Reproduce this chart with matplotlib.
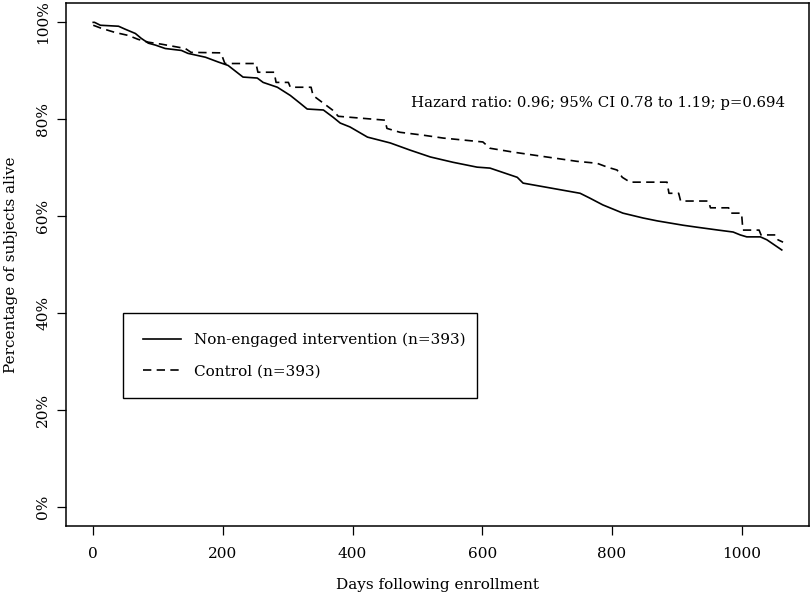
import numpy as np
import matplotlib
matplotlib.use("Agg")
from matplotlib import pyplot as plt
from matplotlib.ticker import FuncFormatter

# Kaplan-Meier curve vertices (days, % alive)
INTERVENTION_DAYS = [0, 2, 11, 39, 49, 65, 74, 85, 96, 111, 136, 146, 173, 193, 208, 231,
                     253, 262, 284, 304, 319, 330, 355, 370, 381, 396, 423, 458, 489,
                     520, 555, 592, 612, 654, 663, 705, 751, 766, 786, 817, 848, 870,
                     910, 931, 964, 987, 998, 1008, 1029, 1039, 1062]
INTERVENTION_PCT = [100, 100, 99.4, 99.2, 98.6, 97.7, 96.7, 95.7, 95.3, 94.6, 94.2, 93.6,
                    92.8, 91.8, 91.1, 88.7, 88.5, 87.6, 86.6, 84.9, 83.3, 82.1, 81.9, 80.4,
                    79.2, 78.4, 76.3, 75.1, 73.6, 72.2, 71.1, 70.1, 69.9, 68.0, 66.8, 65.8,
                    64.7, 63.7, 62.3, 60.6, 59.6, 59.0, 58.1, 57.7, 57.1, 56.7, 56.1, 55.7,
                    55.7, 55.1, 53.0]

CONTROL_DAYS = [0, 12, 34, 54, 69, 85, 105, 142, 151, 197, 203, 251, 254, 279, 282, 301,
                304, 336, 339, 355, 369, 378, 396, 450, 453, 473, 509, 540, 601, 612,
                648, 689, 746, 777, 793, 808, 816, 828, 885, 888, 903, 906, 949, 952,
                980, 983, 1000, 1002, 1027, 1030, 1053, 1056, 1064]
CONTROL_PCT = [99.4, 98.8, 97.9, 97.3, 96.5, 95.9, 95.5, 94.6, 93.8, 93.7, 91.5, 91.5,
               89.7, 89.7, 87.6, 87.6, 86.6, 86.6, 84.9, 83.3, 81.9, 80.6, 80.4, 79.8,
               78.1, 77.3, 76.7, 76.1, 75.3, 74.0, 73.2, 72.4, 71.3, 70.9, 70.1, 69.5,
               68.0, 67.0, 67.0, 64.7, 64.7, 63.1, 63.1, 61.7, 61.7, 60.6, 60.6, 57.1,
               57.1, 56.1, 56.1, 55.1, 54.6]

LABEL_INTERVENTION = "Non-engaged intervention (n=393)"
LABEL_CONTROL = "Control (n=393)"
HR_TEXT = "Hazard ratio: 0.96; 95% CI 0.78 to 1.19; p=0.694"

X_TICKS = [0, 200, 400, 600, 800, 1000]
Y_TICKS = [0, 20, 40, 60, 80, 100]

FONT_SIZE = 11

plt.rcParams['font.family'] = ['DejaVu Serif']
plt.rcParams['font.size'] = FONT_SIZE


def main():
    fig = plt.figure(figsize=(8.12, 5.97), dpi=100)
    ax = fig.add_axes([0.0813, 0.119, 0.915, 0.876])

    ax.plot(INTERVENTION_DAYS, INTERVENTION_PCT, color='black',
            lw=1.2, label=LABEL_INTERVENTION)
    ax.plot(CONTROL_DAYS, CONTROL_PCT, color='black',
            lw=1.2, dashes=(5, 3.2), label=LABEL_CONTROL)

    ax.set_xlim(-42, 1104)
    ax.set_ylim(-4, 104)
    ax.set_xticks(X_TICKS)
    ax.set_yticks(Y_TICKS)
    ax.yaxis.set_major_formatter(FuncFormatter(lambda v, p: "{}%".format(int(v))))
    for lbl in ax.get_yticklabels():
        lbl.set_rotation(90)
        lbl.set_va('center')
    ax.tick_params(direction='out', length=6.5, width=0.9)
    ax.tick_params(axis='x', pad=9)
    ax.tick_params(axis='y', pad=5)
    for sp in ax.spines.values():
        sp.set_linewidth(1.1)

    ax.set_xlabel("Days following enrollment", labelpad=12)
    ax.set_ylabel("Percentage of subjects alive", labelpad=13)

    ax.text(490, 83.3, HR_TEXT, va='center', ha='left', fontsize=10.7)

    leg = ax.legend(loc='upper left', bbox_to_anchor=(0.0767, 0.407, 0.476, 0.0),
                    mode='expand', borderaxespad=0, fancybox=False, framealpha=1,
                    edgecolor='black', borderpad=1.3, labelspacing=1.1,
                    handlelength=2.5, handletextpad=0.85)
    leg.get_frame().set_linewidth(1.0)

    fig.savefig("out.png", dpi=100)


if __name__ == "__main__":
    main()
